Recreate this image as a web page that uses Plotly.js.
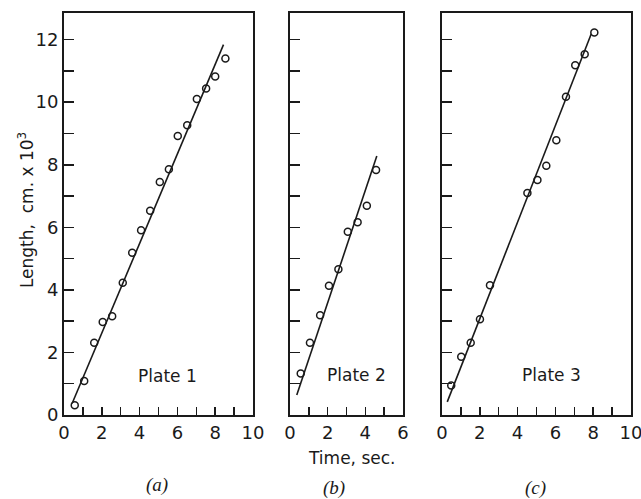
<!DOCTYPE html>
<html>
<head>
<meta charset="utf-8">
<script src="https://cdn.plot.ly/plotly-3.0.1.min.js"></script>
<style>html,body{margin:0;padding:0;background:#fff;}#chart{width:641px;height:499px;}</style>
</head>
<body>
<div id="chart"></div>
<script>
// Plate 1 (a)
var timeA = [0.57,1.07,1.6,2.05,2.55,3.11,3.61,4.08,4.56,5.07,5.55,6.02,6.52,7.03,7.52,8.0,8.54];
var lenA  = [0.31,1.09,2.31,2.97,3.16,4.23,5.19,5.91,6.53,7.45,7.86,8.92,9.26,10.1,10.44,10.82,11.4];
var fitTimeA = [0.43, 8.44];
var fitLenA  = [0.37, 11.84];
// Plate 2 (b)
var timeB = [0.57,1.06,1.6,2.07,2.57,3.07,3.59,4.08,4.57];
var lenB  = [1.33,2.31,3.19,4.13,4.66,5.86,6.16,6.69,7.83];
var fitTimeB = [0.36, 4.61];
var fitLenB  = [0.64, 8.28];
// Plate 3 (c)
var timeC = [0.49,1.02,1.52,2.01,2.54,4.52,5.05,5.52,6.05,6.56,7.05,7.55,8.06];
var lenC  = [0.94,1.86,2.31,3.06,4.15,7.1,7.51,7.97,8.78,10.17,11.18,11.53,12.23];
var fitTimeC = [0.28, 7.9];
var fitLenC  = [0.42, 12.19];

var plateLabels = ["Plate 1", "Plate 2", "Plate 3"];
var panelLabels = ["(a)", "(b)", "(c)"];
var yTitle = "Length,  cm. x 10<sup>3</sup>";
var xTitle = "Time, sec.";

var INK = "#1a1a1a";
var FONT = "DejaVu Sans, sans-serif";

function pts(x, y, xa, ya) {
  return {x: x, y: y, xaxis: xa, yaxis: ya, type: "scatter", mode: "markers",
    marker: {symbol: "circle-open", size: 7, color: INK, line: {width: 1.5, color: INK}},
    hoverinfo: "x+y", showlegend: false, cliponaxis: false};
}
function fit(x, y, xa, ya) {
  return {x: x, y: y, xaxis: xa, yaxis: ya, type: "scatter", mode: "lines",
    line: {color: INK, width: 1.6}, hoverinfo: "skip", showlegend: false};
}

var data = [
  fit(fitTimeA, fitLenA, "x", "y"), pts(timeA, lenA, "x", "y"),
  fit(fitTimeB, fitLenB, "x2", "y2"), pts(timeB, lenB, "x2", "y2"),
  fit(fitTimeC, fitLenC, "x3", "y3"), pts(timeC, lenC, "x3", "y3")
];

function xaxis(dom, range, anchor) {
  return {domain: dom, range: range, anchor: anchor, showgrid: false, zeroline: false,
    showline: true, mirror: true, linecolor: INK, linewidth: 2,
    ticks: "inside", ticklen: 8, tickwidth: 1.5, tickcolor: INK,
    tick0: 0, dtick: 2, ticklabeloverflow: "allow",
    minor: {dtick: 1, ticks: "inside", ticklen: 8, tickwidth: 1.5, tickcolor: INK},
    tickfont: {family: FONT, size: 18, color: INK}, fixedrange: true, automargin: false};
}
function yaxis(anchor, labels) {
  return {domain: [0.1683, 0.9739], range: [0, 12.85], anchor: anchor, showgrid: false, zeroline: false,
    showline: true, mirror: true, linecolor: INK, linewidth: 2,
    ticks: "inside", ticklen: 10, tickwidth: 1.5, tickcolor: INK,
    tick0: 0, dtick: 2, showticklabels: labels, ticklabeloverflow: "allow",
    minor: {dtick: 1, ticks: "inside", ticklen: 10, tickwidth: 1.5, tickcolor: INK},
    tickfont: {family: FONT, size: 18, color: INK}, fixedrange: true, automargin: false};
}

function paperText(t, x, y, font, angle) {
  return {text: t, xref: "paper", yref: "paper", x: x, y: y, xanchor: "center", yanchor: "middle",
    textangle: angle || 0, showarrow: false, font: font};
}
var serif = {family: "Liberation Serif, serif", size: 19, color: INK, style: "italic"};

var layout = {
  width: 641, height: 499,
  margin: {l: 0, r: 0, t: 0, b: 0},
  paper_bgcolor: "#fff", plot_bgcolor: "#fff",
  font: {family: FONT, color: INK},
  showlegend: false,
  xaxis: xaxis([0.0998, 0.3947], [0, 10], "y"),
  yaxis: yaxis("x", true),
  xaxis2: xaxis([0.4524, 0.6287], [0, 6], "y2"),
  yaxis2: yaxis("x2", false),
  xaxis3: xaxis([0.6895, 0.9844], [0, 10], "y3"),
  yaxis3: yaxis("x3", false),
  annotations: [
    {text: plateLabels[0], xref: "x", yref: "y", x: 5.48, y: 1.25, xanchor: "center", yanchor: "middle", showarrow: false, font: {family: FONT, size: 17, color: INK}},
    {text: plateLabels[1], xref: "x2", yref: "y2", x: 3.54, y: 1.28, xanchor: "center", yanchor: "middle", showarrow: false, font: {family: FONT, size: 17, color: INK}},
    {text: plateLabels[2], xref: "x3", yref: "y3", x: 5.77, y: 1.28, xanchor: "center", yanchor: "middle", showarrow: false, font: {family: FONT, size: 17, color: INK}},
    paperText(yTitle, 0.0406, 0.579, {family: FONT, size: 17, color: INK}, -90),
    paperText(xTitle, 0.549, 0.082, {family: FONT, size: 17, color: INK}),
    paperText(panelLabels[0], 0.245, 0.028, serif),
    paperText(panelLabels[1], 0.521, 0.022, serif),
    paperText(panelLabels[2], 0.835, 0.022, serif)
  ]
};

Plotly.newPlot("chart", data, layout, {displayModeBar: false, staticPlot: true});
</script>
</body>
</html>
